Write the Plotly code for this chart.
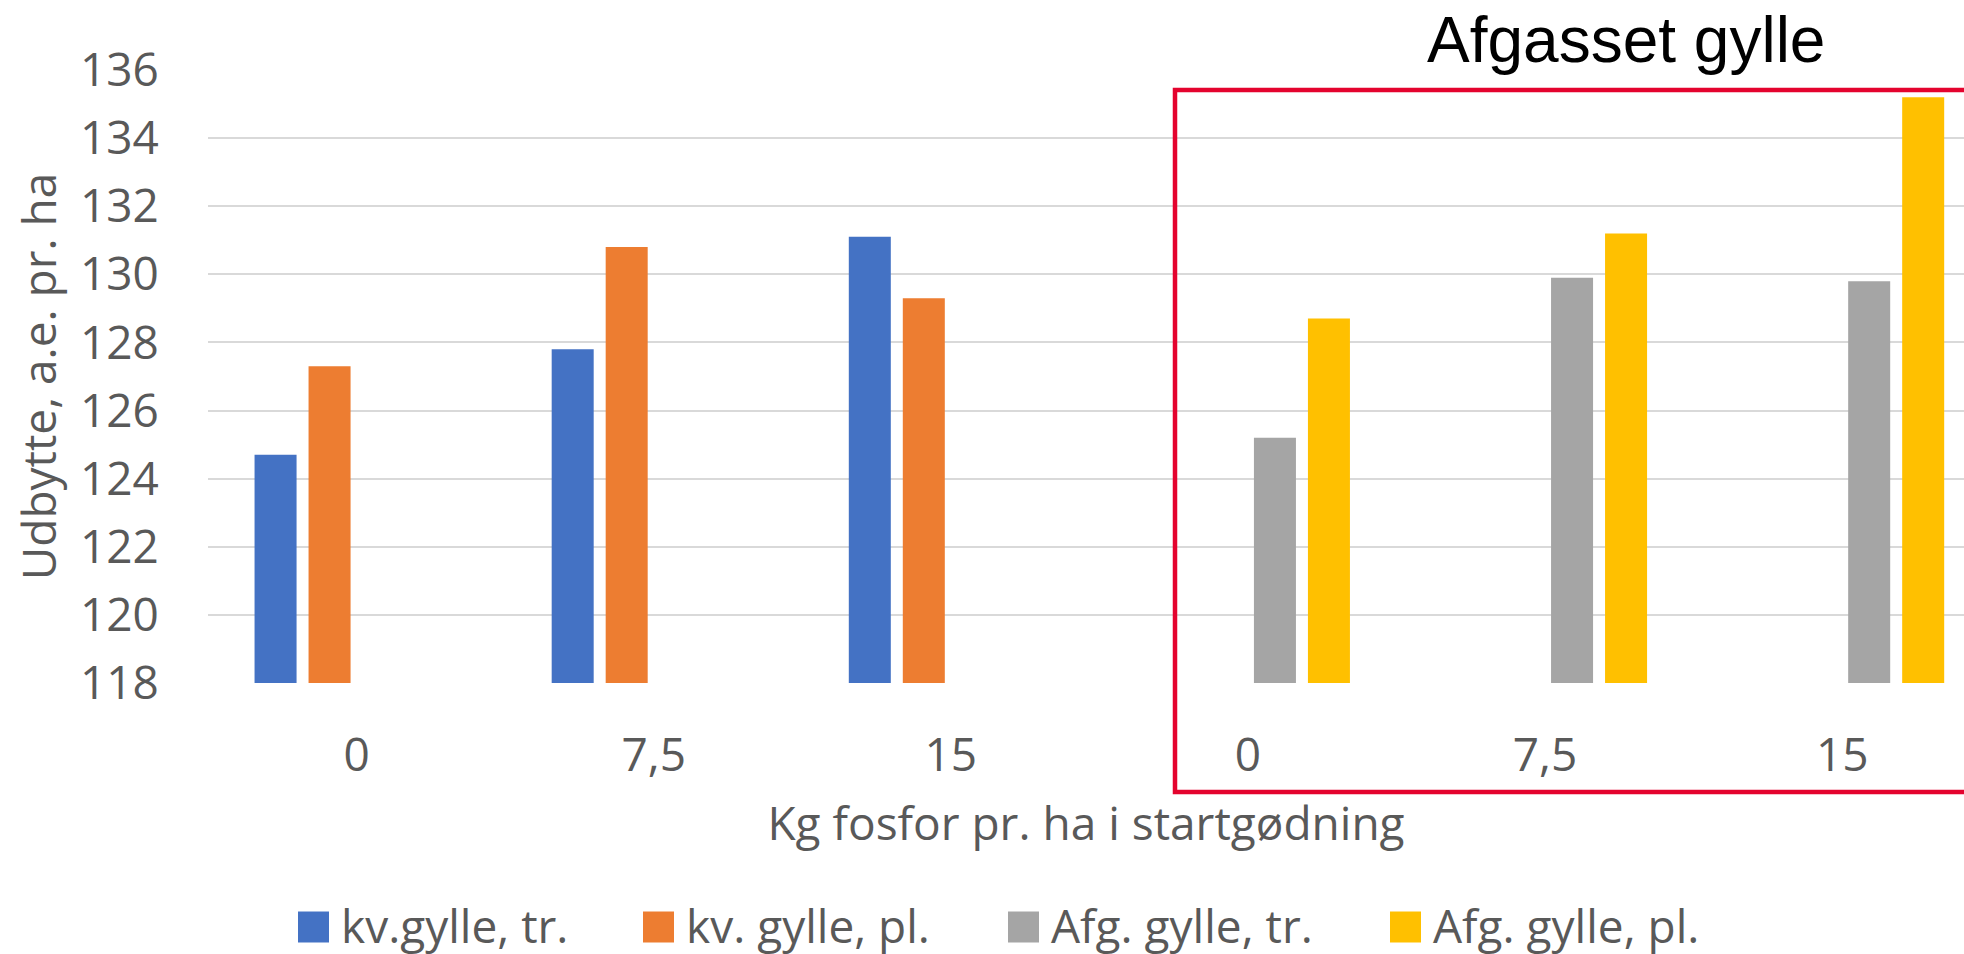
import plotly.graph_objects as go

# ---- data ----
categories = ["0", "7,5", "15", "0", "7,5", "15"]
series_names = ["kv.gylle, tr.", "kv. gylle, pl.", "Afg. gylle, tr.", "Afg. gylle, pl."]
kv_gylle_tr = [124.7, 127.8, 131.1, None, None, None]
kv_gylle_pl = [127.3, 130.8, 129.3, None, None, None]
afg_gylle_tr = [None, None, None, 125.2, 129.9, 129.8]
afg_gylle_pl = [None, None, None, 128.7, 131.2, 135.2]
y_ticks = [118, 120, 122, 124, 126, 128, 130, 132, 134, 136]
title_text = "Afgasset gylle"
x_title = "Kg fosfor pr. ha i startgødning"
y_title = "Udbytte, a.e. pr. ha"

colors = ["#4472C4", "#ED7D31", "#A5A5A5", "#FFC000"]
series_values = [kv_gylle_tr, kv_gylle_pl, afg_gylle_tr, afg_gylle_pl]

W, H = 1964, 954
L, R, T, B = 208, 0, 70, 271
PW, PH = W - L - R, H - T - B

def px2x(px):
    return (px - L) / PW

def py2y(py):
    return (H - B - py) / PH

FONT = "Open Sans"
GREY = "#595959"
FS = 46

xs = list(range(len(categories)))

fig = go.Figure()
for name, vals, col in zip(series_names, series_values, colors):
    fig.add_trace(go.Bar(x=xs, y=vals, name=name, marker=dict(color=col, line=dict(width=0)),
                         showlegend=False))

fig.update_layout(
    width=W, height=H,
    margin=dict(l=L, r=R, t=T, b=B, pad=0),
    paper_bgcolor="white", plot_bgcolor="white",
    barmode="group", bargap=0.273, bargroupgap=0.222,
    font=dict(family=FONT, color=GREY, size=FS),
    xaxis=dict(
        range=[-0.5, 5.41], tickvals=xs, ticktext=categories,
        showgrid=False, zeroline=False, showline=False,
        ticks="outside", ticklen=32, tickcolor="rgba(0,0,0,0)",
        tickfont=dict(family=FONT, size=FS, color=GREY),
        title=dict(text=x_title, font=dict(family=FONT, size=FS, color=GREY), standoff=24),
        automargin=False,
    ),
    yaxis=dict(
        range=[118, 136], tickvals=y_ticks, ticktext=[str(v) for v in y_ticks],
        showgrid=True, gridcolor="#D9D9D9", gridwidth=2,
        zeroline=False, showline=False,
        ticks="outside", ticklen=39, tickcolor="rgba(0,0,0,0)",
        tickfont=dict(family=FONT, size=FS, color=GREY),
        title=dict(text=y_title, font=dict(family=FONT, size=FS, color=GREY), standoff=8),
        automargin=False,
    ),
)

# red highlight box around the digested-slurry group
fig.add_shape(type="rect", xref="paper", yref="paper",
              x0=px2x(1175), x1=px2x(1975), y0=py2y(792), y1=py2y(90),
              line=dict(color="#E4032E", width=4.5), fillcolor="rgba(0,0,0,0)", layer="above")

# title annotation
fig.add_annotation(text=title_text, xref="paper", yref="paper", x=px2x(1626), y=py2y(40),
                   xanchor="center", yanchor="middle", showarrow=False,
                   font=dict(family="Liberation Sans", size=64, color="black"))

# manual legend (large square swatches)
legend_sq_x = [298, 643, 1008, 1390]
legend_y = 927
sq = 31
for name, col, lx in zip(series_names, colors, legend_sq_x):
    fig.add_shape(type="rect", xref="paper", yref="paper",
                  x0=px2x(lx), x1=px2x(lx + sq), y0=py2y(legend_y + sq / 2), y1=py2y(legend_y - sq / 2),
                  line=dict(width=0), fillcolor=col)
    fig.add_annotation(text=name, xref="paper", yref="paper", x=px2x(lx + sq + 10), y=py2y(legend_y - 2),
                       xanchor="left", yanchor="middle", showarrow=False,
                       font=dict(family=FONT, size=FS, color=GREY))

fig.write_html("out.html", config={"displayModeBar": False},
               post_script="document.body.style.margin='0px';document.body.style.overflow='hidden';")
